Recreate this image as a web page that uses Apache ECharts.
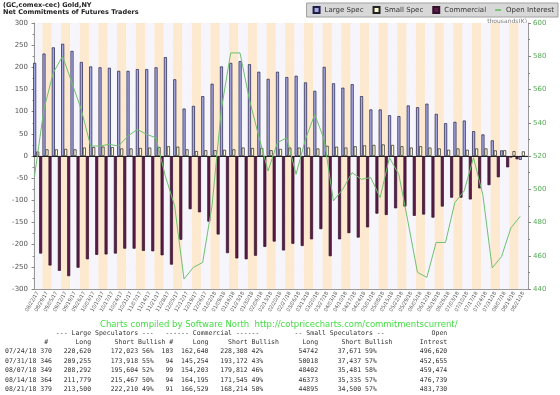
<!DOCTYPE html>
<html><head><meta charset="utf-8">
<script src="https://cdn.jsdelivr.net/npm/echarts@6/dist/echarts.min.js"></script>
<style>html,body{margin:0;padding:0;background:#fff;}#c{width:560px;height:395px;}</style>
</head><body><div id="c"></div>
<script>
const dates = ['08/22/17','08/29/17','09/05/17','09/12/17','09/19/17','09/26/17','10/03/17','10/10/17','10/17/17','10/24/17','10/31/17','11/07/17','11/14/17','11/21/17','11/28/17','12/05/17','12/12/17','12/19/17','12/26/17','01/02/18','01/09/18','01/16/18','01/23/18','01/30/18','02/06/18','02/13/18','02/20/18','02/27/18','03/06/18','03/13/18','03/20/18','03/27/18','04/03/18','04/10/18','04/17/18','04/24/18','05/01/18','05/08/18','05/15/18','05/22/18','05/29/18','06/05/18','06/12/18','06/19/18','06/26/18','07/03/18','07/10/18','07/17/18','07/24/18','07/31/18','08/07/18','08/14/18','08/21/18'];
const largeSpec = [210,231,245,253,237,212,202,200,199,192,192,196,196,200,223,173,107,113,135,163,202,210,214,207,190,174,190,178,181,166,147,201,164,154,162,135,105,105,92,90,114,110,118,95,74,77,80,56,48.6,35.3,12.7,-3.7,-8.7];
const smallSpec = [10,15,15,16,15,19,20,21,20,17,17,18,19,20,22,21,15,11,13,13,14,15,19,18,18,13,16,19,19,19,17,23,21,19,22,24,25,26,25,22,19,22,19,17,14,17,14,17,17.1,12.6,12.9,11.0,10.4];
const commercial = [-220,-247,-259,-271,-252,-233,-223,-222,-220,-209,-209,-214,-215,-224,-245,-189,-120,-127,-148,-177,-219,-231,-233,-225,-205,-193,-213,-198,-203,-188,-165,-226,-188,-174,-184,-161,-130,-133,-118,-114,-135,-132,-139,-114,-94,-94,-98,-73,-65.7,-47.9,-25.6,-7.4,-1.7];
const openInterest = [508,548,570,580,564,548,526,526,527,526,532,536,533,531,508,490,446,453,456,490,548,582,582,554,532,511,528,531,509,530,545,530,493,500,510,506,507,495,519,509,480,450,447,468,468,492,499,519,496.6,452.7,459.5,476.7,483.7];
const seriesNames = ['Large Spec','Small Spec','Commercial','Open Interest'];
const titleLines = ['(GC,comex-cec) Gold,NY','Net Commitments of Futures Traders'];
const creditText = 'Charts compiled by Software North  http://cotpricecharts.com/commitmentscurrent/';
const unitText = 'thousands(K)';

const tableDates = ['07/24/18','07/31/18','08/07/18','08/14/18','08/21/18'];
const lsCount = ['370','346','349','364','379'];
const lsLong = ['220,620','209,255','208,292','211,779','213,500'];
const lsShort = ['172,023','173,918','195,604','215,467','222,210'];
const lsBull = ['56%','55%','52%','50%','49%'];
const cmCount = ['103','94','99','94','91'];
const cmLong = ['162,640','145,254','154,203','164,195','166,529'];
const cmShort = ['228,308','193,172','179,812','171,545','168,214'];
const cmBull = ['42%','43%','46%','49%','50%'];
const ssLong = ['54742','50018','48402','46373','44895'];
const ssShort = ['37,671','37,437','35,481','35,335','34,500'];
const ssBull = ['59%','57%','58%','57%','57%'];
const oiTable = ['496,620','452,655','459,474','476,739','483,730'];

function blank(){ return new Array(114).fill(' '); }
function put(arr, text, col, right){ const s = right ? col - text.length + 1 : col; for (let k=0;k<text.length;k++) arr[s+k]=text[k]; }
const lines = [];
let h1 = blank();
put(h1,'--- Large Speculators ---',13,false);
put(h1,'------ Commercial ------',41,false);
put(h1,'-- Small Speculators --',74,false);
put(h1,'Open',112,true);
lines.push(h1.join(''));
let h2 = blank();
put(h2,'#',10,false); put(h2,'Long',21,true); put(h2,'Short',32,true); put(h2,'Bullish',34,false);
put(h2,'#',42,false); put(h2,'Long',51,true); put(h2,'Short',61,true); put(h2,'Bullish',63,false);
put(h2,'Long',79,true); put(h2,'Short',90,true); put(h2,'Bullish',92,false); put(h2,'Intrest',112,true);
lines.push(h2.join(''));
for (let r=0;r<tableDates.length;r++){
  const a = blank();
  put(a,tableDates[r],0,false); put(a,lsCount[r],11,true); put(a,lsLong[r],21,true); put(a,lsShort[r],33,true); put(a,lsBull[r],35,false);
  put(a,cmCount[r],42,true); put(a,cmLong[r],51,true); put(a,cmShort[r],61,true); put(a,cmBull[r],63,false);
  put(a,ssLong[r],79,true); put(a,ssShort[r],90,true); put(a,ssBull[r],92,false); put(a,oiTable[r],112,true);
  lines.push(a.join(''));
}
const lineY = [334,343,352,361.5,371,380.5,390];
const graphics = [];
lines.forEach((t,i)=>graphics.push({type:'text',left:5,top:lineY[i]-4,silent:true,style:{text:t,font:'6.5px "DejaVu Sans Mono"',fill:'#333'}}));
graphics.push({type:'text',left:3,top:2,silent:true,style:{text:titleLines[0],font:'bold 6.5px "DejaVu Sans"',fill:'#222'}});
graphics.push({type:'text',left:3,top:8.5,silent:true,style:{text:titleLines[1],font:'bold 6.5px "DejaVu Sans"',fill:'#222'}});
graphics.push({type:'text',left:100,top:320,silent:true,style:{text:creditText,font:'8.5px "DejaVu Sans"',fill:'#44dd44'}});
graphics.push({type:'text',right:33,top:18,silent:true,style:{text:unitText,font:'6px "DejaVu Sans"',fill:'#777'}});

const chart = echarts.init(document.getElementById('c'), null, {renderer:'canvas'});
chart.setOption({
  animation:false,
  backgroundColor:'#fff',
  textStyle:{fontFamily:'DejaVu Sans'},
  grid:{left:33,right:32,top:23,bottom:106},
  legend:{
    data:[{name:seriesNames[0],icon:'rect'},{name:seriesNames[1],icon:'rect'},{name:seriesNames[2],icon:'rect'},
          {name:seriesNames[3],icon:'path://M0,0h10v3h-10z'}],
    right:2,top:3,itemWidth:6,itemHeight:6,itemGap:9,padding:[3,4,3,6],symbolKeepAspect:true,
    backgroundColor:'#d8d8d8',borderColor:'#a0a0a0',borderWidth:1,
    textStyle:{fontSize:7,color:'#333',fontFamily:'DejaVu Sans'}
  },
  xAxis:[
    {type:'category',data:dates,boundaryGap:true,
     axisLine:{onZero:false,lineStyle:{color:'#999'}},axisTick:{show:false},
     axisLabel:{interval:0,rotate:60,fontSize:5,color:'#555',margin:3},
     splitLine:{show:false},
     splitArea:{show:true,areaStyle:{color:['#f5f5fb','#fde9d0']}}},
    {type:'value',show:false,min:-0.166,max:52.834}
  ],
  yAxis:[
    {type:'value',min:-300,max:300,interval:50,
     axisLine:{show:true,lineStyle:{color:'#999'}},
     axisTick:{show:true,length:3,lineStyle:{color:'#888'}},
     minorTick:{show:true,splitNumber:2,length:2,lineStyle:{color:'#888'}},
     axisLabel:{fontSize:7,color:'#555',margin:5},
     splitLine:{show:true,lineStyle:{color:'#d4d4d4',width:1}}},
    {type:'value',position:'right',min:440,max:600,interval:20,
     axisLine:{show:true,lineStyle:{color:'#999'}},
     axisTick:{show:true,length:3,lineStyle:{color:'#888'}},
     minorTick:{show:true,splitNumber:2,length:2,lineStyle:{color:'#888'}},
     axisLabel:{fontSize:7,color:'#55aa55',margin:5},
     splitLine:{show:false}}
  ],
  series:[
    {name:seriesNames[0],type:'bar',data:largeSpec,barGap:'0%',barCategoryGap:'3%',
     itemStyle:{color:'#a9a9e4',borderColor:'#1e1e48',borderWidth:0.7}},
    {name:seriesNames[1],type:'bar',data:smallSpec,
     itemStyle:{color:'#fffbd2',borderColor:'#222',borderWidth:0.7}},
    {name:seriesNames[2],type:'bar',data:commercial,
     itemStyle:{color:'#5a1c48',borderColor:'#35102a',borderWidth:0.7},
     markLine:{silent:true,symbol:'none',label:{show:false},lineStyle:{color:'#222',width:1,type:'solid'},data:[{yAxis:0}]}},
    {name:seriesNames[3],type:'line',xAxisIndex:1,yAxisIndex:1,data:openInterest.map((v,i)=>[i,v]),
     symbol:'none',z:5,itemStyle:{color:'#70c070'},lineStyle:{color:'#70c070',width:1}}
  ],
  graphic:graphics
});
</script></body></html>
